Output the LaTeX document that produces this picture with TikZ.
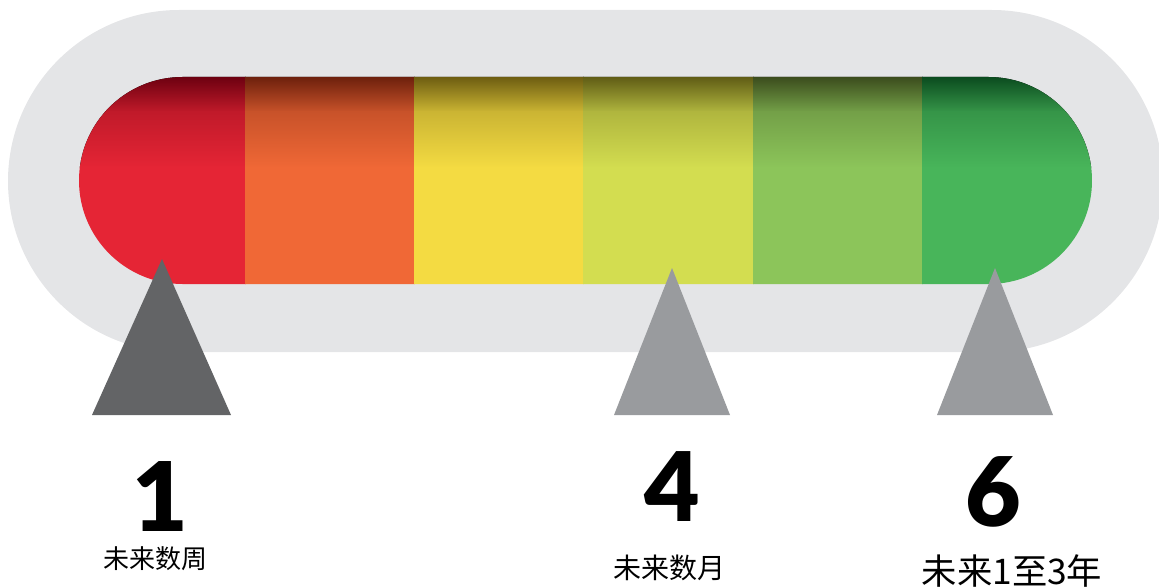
\documentclass[tikz,border=0pt]{standalone}
\usepackage{fontspec}
\newfontfamily\cjk{Noto Sans CJK SC}
\newfontfamily\numfont{Lato}[BoldFont={* Black}]
\definecolor{capsule}{HTML}{E4E5E7}
\definecolor{redD}{HTML}{6B0010}\definecolor{redB}{HTML}{E52535}
\definecolor{oraD}{HTML}{6B1F0C}\definecolor{oraB}{HTML}{F06836}
\definecolor{yelD}{HTML}{6B5B10}\definecolor{yelB}{HTML}{F4DB42}
\definecolor{ygD}{HTML}{5E5A14}\definecolor{ygB}{HTML}{D3DD50}
\definecolor{lgD}{HTML}{3A4A1C}\definecolor{lgB}{HTML}{8CC55A}
\definecolor{grD}{HTML}{0A4A1E}\definecolor{grB}{HTML}{48B55A}
\definecolor{triDark}{HTML}{636466}
\definecolor{triLight}{HTML}{999B9E}
\tikzset{
  num/.style={font=\numfont\bfseries\fontsize{72}{72}\selectfont, text=black, inner sep=0pt, anchor=base},
  lbl/.style={font=\cjk, text=black, inner sep=0pt},
}
\newcommand{\segfill}[4]{%
  \fill[top color=#3, bottom color=#4!70!#3] (#1,76) rectangle (#2,112);
  \fill[top color=#4!70!#3, bottom color=#4] (#1,111.5) rectangle (#2,168);
  \fill[#4] (#1,167.5) rectangle (#2,285);
}
\begin{document}
\begin{tikzpicture}[x=0.75pt,y=-0.75pt]
\useasboundingbox (0,0) rectangle (1159,588);
\begin{scope}
  \clip (0,0) rectangle (1159,588);
  \fill[capsule, rounded corners=128.25pt] (8,10) rectangle (1163,352);
\end{scope}
\begin{scope}
  \clip[rounded corners=77.6pt] (79,77) rectangle (1092,284);
  \segfill{78}{245.5}{redD}{redB}
  \segfill{245}{414.5}{oraD}{oraB}
  \segfill{414}{583.5}{yelD}{yelB}
  \segfill{583}{753.5}{ygD}{ygB}
  \segfill{753}{922.5}{lgD}{lgB}
  \segfill{922}{1093}{grD}{grB}
\end{scope}
\fill[triDark] (92,415) -- (162,259) -- (231,415) -- cycle;
\fill[triLight] (614,415) -- (672,268) -- (730,415) -- cycle;
\fill[triLight] (937,415) -- (995,268) -- (1053,415) -- cycle;
\node[num] (n1) at (160.5,531) {1};
\node[num] (n4) at (672,521) {4};
\node[num] (n6) at (993,526) {6};
\node[lbl, font=\cjk\fontsize{19.5}{19.5}\selectfont] (l1) at (155.5,559) {未来数周};
\node[lbl, font=\cjk\fontsize{21}{21}\selectfont] (l4) at (669,568) {未来数月};
\node[lbl, font=\cjk\fontsize{26.5}{26.5}\selectfont] (l6) at (1012,571) {未来1至3年};
\end{tikzpicture}
\end{document}
